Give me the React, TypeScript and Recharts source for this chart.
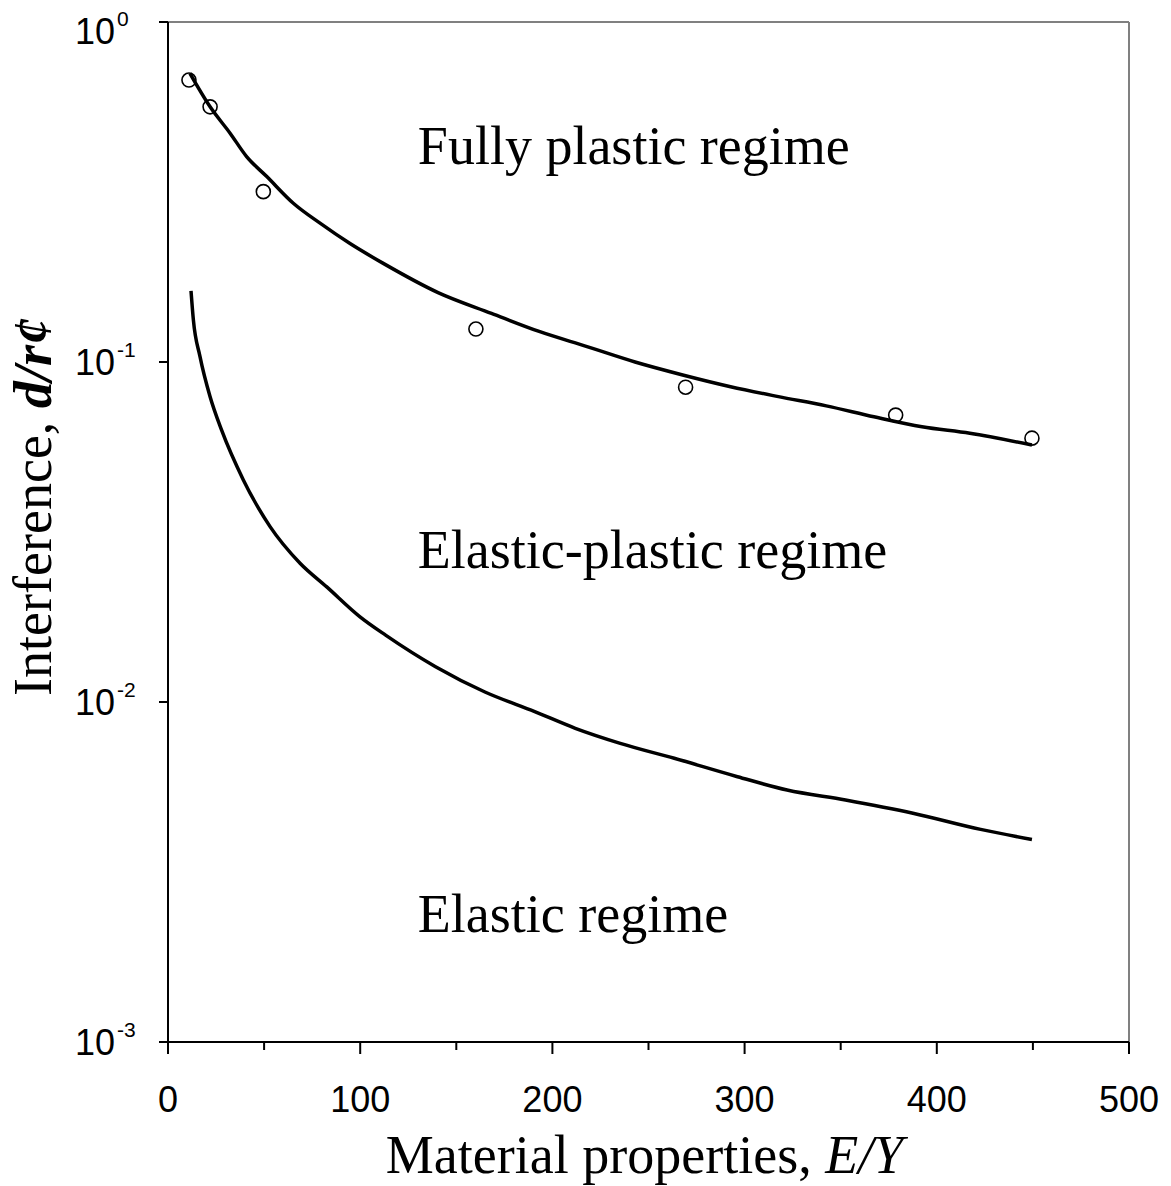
import React from 'react';
import { ComposedChart, Line, Scatter, XAxis, YAxis, ReferenceLine } from 'recharts';

// Upper curve: fully plastic boundary (E/Y, d/r')
const plasticX = [11.4, 21.9, 32.3, 40.9, 51.4, 65.2, 79.1, 94.7, 112.0, 140.5, 168.3, 193.1, 218.0, 243.0, 267.8, 292.7, 317.6, 342.5, 367.3, 392.3, 417.2, 449.5];
const plasticY = [0.706, 0.563, 0.471, 0.402, 0.351, 0.293, 0.256, 0.223, 0.195, 0.160, 0.139, 0.123, 0.111, 0.100, 0.0916, 0.0846, 0.0791, 0.0743, 0.0690, 0.0645, 0.0617, 0.0570];

// Lower curve: elastic limit
const elasticX = [11.97, 13.2, 16.6, 21.9, 27.9, 39.2, 53.1, 68.7, 82.6, 99.9, 113.4, 139.2, 164.9, 190.8, 211.9, 235.3, 263.4, 296.3, 322.1, 352.5, 387.6, 422.8, 449.5];
const elasticY = [0.162, 0.133, 0.104, 0.079, 0.063, 0.045, 0.0328, 0.0256, 0.0218, 0.0178, 0.0157, 0.0127, 0.0107, 0.00937, 0.00837, 0.00756, 0.00683, 0.00603, 0.00551, 0.00515, 0.00471, 0.00422, 0.00394];

// Data points (circles)
const pointsX = [10.9, 21.9, 49.6, 160.2, 269.3, 378.6, 449.5];
const pointsY = [0.675, 0.563, 0.317, 0.125, 0.0843, 0.0698, 0.0597];

const xTicks = [0, 50, 100, 150, 200, 250, 300, 350, 400, 450, 500];
const yTicks = [0.001, 0.01, 0.1, 1];

const regimeLabels = ['Fully plastic regime', 'Elastic-plastic regime', 'Elastic regime'];
const regimeX = [130, 130, 130];
const regimeY = [0.382, 0.0248, 0.00211];

const plasticData = plasticX.map((x, i) => ({ x, y: plasticY[i] }));
const elasticData = elasticX.map((x, i) => ({ x, y: elasticY[i] }));
const pointData = pointsX.map((x, i) => ({ x, y: pointsY[i] }));
const regimeData = regimeLabels.map((label, i) => ({ x: regimeX[i], y: regimeY[i], label }));

const SERIF = '"Times New Roman", "Liberation Serif", serif';
const SANS = 'Arial, "Liberation Sans", sans-serif';

const XTick = (props: any) => {
  const { x, y, payload } = props;
  const major = payload.value % 100 === 0;
  return (
    <g>
      <line x1={x} x2={x} y1={y} y2={y + (major ? 12 : 8)} stroke="#000" strokeWidth={2} />
      {major && (
        <text x={x} y={y + 70} textAnchor="middle" fontFamily={SANS} fontSize={36} fill="#000">
          {payload.value}
        </text>
      )}
    </g>
  );
};

const YTick = (props: any) => {
  const { x, y, payload } = props;
  const exp = Math.round(Math.log10(payload.value));
  const shift = payload.value === 1 ? 9 : 0;
  return (
    <g>
      <line x1={x} x2={x - 9} y1={y} y2={y} stroke="#000" strokeWidth={2} />
      <text x={x - 93} y={y + 13 + shift} fontFamily={SANS} fontSize={36} fill="#000">
        10
        <tspan dx={2} dy={-18} fontSize={21}>{String(exp)}</tspan>
      </text>
    </g>
  );
};

const XLabel = (props: any) => {
  const { viewBox } = props;
  const cx = viewBox.x + viewBox.width / 2 - 4;
  return (
    <text x={cx} y={viewBox.y + 131} textAnchor="middle" fontFamily={SERIF} fontSize={54} fill="#000">
      Material properties, <tspan fontStyle="italic">E/Y</tspan>
    </text>
  );
};

const YLabel = (props: any) => {
  const { viewBox } = props;
  const cy = viewBox.y + viewBox.height / 2 - 25;
  const lx = 51;
  return (
    <text
      x={lx}
      y={cy}
      textAnchor="middle"
      fontFamily={SERIF}
      fontSize={54}
      fill="#000"
      transform={`rotate(-90, ${lx}, ${cy})`}
    >
      Interference, <tspan fontWeight="bold" fontStyle="italic">d/r¢</tspan>
    </text>
  );
};

const RegimeText = (props: any) => {
  const { cx, cy, payload } = props;
  return (
    <text x={cx} y={cy} fontFamily={SERIF} fontSize={54} fill="#000">
      {payload.label}
    </text>
  );
};

const OpenCircle = (props: any) => {
  const { cx, cy } = props;
  return <circle cx={cx} cy={cy} r={7} fill="none" stroke="#000" strokeWidth={1.6} />;
};

export default function App() {
  return (
    <div style={{ position: 'absolute', left: 0, top: 0, background: '#fff' }}>
      <ComposedChart
        width={1171}
        height={1186}
        margin={{ top: 22, right: 42, left: 0, bottom: 0 }}
      >
        <XAxis
          dataKey="x"
          type="number"
          domain={[0, 500]}
          ticks={xTicks}
          interval={0}
          allowDataOverflow
          height={144}
          tickSize={0}
          tickMargin={0}
          tickLine={false}
          axisLine={{ stroke: '#000', strokeWidth: 2 }}
          tick={<XTick />}
          label={<XLabel />}
        />
        <YAxis
          dataKey="y"
          type="number"
          scale="log"
          domain={[0.001, 1]}
          ticks={yTicks}
          interval={0}
          allowDataOverflow
          width={168}
          tickSize={0}
          tickMargin={0}
          tickLine={false}
          axisLine={{ stroke: '#000', strokeWidth: 2 }}
          tick={<YTick />}
          label={<YLabel />}
        />
        <ReferenceLine y={1} stroke="#808080" strokeWidth={2} />
        <ReferenceLine x={500} stroke="#808080" strokeWidth={2} />
        <Line
          data={plasticData}
          dataKey="y"
          type="monotone"
          stroke="#000"
          strokeWidth={3.5}
          dot={false}
          activeDot={false}
          isAnimationActive={false}
        />
        <Line
          data={elasticData}
          dataKey="y"
          type="monotone"
          stroke="#000"
          strokeWidth={3.5}
          dot={false}
          activeDot={false}
          isAnimationActive={false}
        />
        <Scatter data={pointData} dataKey="y" shape={<OpenCircle />} isAnimationActive={false} />
        <Scatter data={regimeData} dataKey="y" shape={<RegimeText />} isAnimationActive={false} />
      </ComposedChart>
    </div>
  );
}
